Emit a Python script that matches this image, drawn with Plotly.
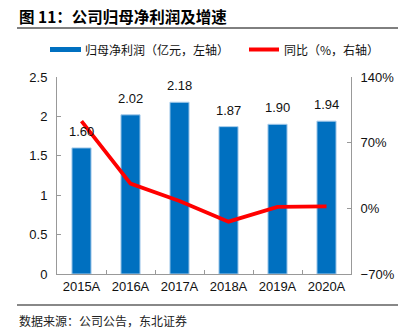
import plotly.graph_objects as go

years = ["2015A", "2016A", "2017A", "2018A", "2019A", "2020A"]
net_profit = [1.60, 2.02, 2.18, 1.87, 1.90, 1.94]          # 亿元
yoy_growth = [93.0, 26.3, 7.9, -14.2, 1.6, 2.1]             # %

title_text = "图 11：公司归母净利润及增速"
legend_bar = "归母净利润（亿元，左轴）"
legend_line = "同比（%，右轴）"
source_text = "数据来源：公司公告，东北证券"

W, H = 410, 333
L, R, T, B = 57, 351, 77, 274  # plot area in pixels


def px(x):
    return (x - L) / (R - L)


def py(y):
    return (B - y) / (B - T)


BLUE = "#0070C0"
RED = "#FF0000"
AXIS = "#999999"
FONT = "Liberation Sans, Arial, sans-serif"
CJK = "Noto Sans CJK SC, sans-serif"

fig = go.Figure()
fig.add_trace(go.Bar(
    x=years, y=net_profit, marker=dict(color=BLUE, line=dict(color="#A9CDEB", width=1)),
    showlegend=False, yaxis="y",
))
fig.add_trace(go.Scatter(
    x=years, y=yoy_growth, mode="lines", line=dict(color=RED, width=3.8),
    showlegend=False, yaxis="y2",
))

shapes = [
    # title underline
    dict(type="line", xref="paper", yref="paper", x0=px(17), x1=px(398), y0=py(28), y1=py(28),
         line=dict(color="#000000", width=1)),
    # footer rule
    dict(type="line", xref="paper", yref="paper", x0=px(17), x1=px(398), y0=py(305), y1=py(305),
         line=dict(color="#888888", width=2)),
    # legend swatches
    dict(type="line", xref="paper", yref="paper", x0=px(50), x1=px(81), y0=py(49.5), y1=py(49.5),
         line=dict(color=BLUE, width=5)),
    dict(type="line", xref="paper", yref="paper", x0=px(249), x1=px(279), y0=py(49.5), y1=py(49.5),
         line=dict(color=RED, width=4)),
]

# value labels above the bars
annotations = [
    dict(text=f"{v:.2f}", x=yr, y=v, xref="x", yref="y", yanchor="bottom",
         yshift=7, showarrow=False, font=dict(family=FONT, size=13, color="#111111"))
    for yr, v in zip(years, net_profit)
]

annotations += [
    dict(text="<b>" + title_text + "</b>", xref="paper", yref="paper", x=px(17), y=py(16),
         xanchor="left", yanchor="middle", showarrow=False,
         font=dict(family=CJK, size=15.5, color="#000000")),
    dict(text=legend_bar, xref="paper", yref="paper", x=px(83), y=py(49.5),
         xanchor="left", yanchor="middle", showarrow=False,
         font=dict(family=CJK, size=12, color="#111111")),
    dict(text=legend_line, xref="paper", yref="paper", x=px(282), y=py(49.5),
         xanchor="left", yanchor="middle", showarrow=False,
         font=dict(family=CJK, size=12, color="#111111")),
    dict(text=source_text, xref="paper", yref="paper", x=px(17), y=py(320),
         xanchor="left", yanchor="middle", showarrow=False,
         font=dict(family=CJK, size=12, color="#222222")),
]

fig.update_layout(
    width=W, height=H,
    margin=dict(l=L, r=W - R, t=T, b=H - B, pad=0),
    paper_bgcolor="white", plot_bgcolor="white",
    bargap=0.61,
    showlegend=False,
    font=dict(family=FONT, size=13, color="#111111"),
    xaxis=dict(
        type="category", showline=True, linecolor=AXIS, linewidth=1,
        ticks="inside", tickson="boundaries", ticklen=4, tickcolor=AXIS,
        showgrid=False, tickfont=dict(family=FONT, size=13, color="#111111"),
    ),
    yaxis=dict(
        range=[0, 2.5], dtick=0.5, showline=True, linecolor=AXIS, linewidth=1,
        ticks="inside", ticklen=4, tickcolor=AXIS, showgrid=False, zeroline=False,
        tickfont=dict(family=FONT, size=13, color="#111111"), ticklabelstandoff=6,
    ),
    yaxis2=dict(
        range=[-70, 140], dtick=70, ticksuffix="%", overlaying="y", side="right",
        showline=True, linecolor=AXIS, linewidth=1, ticks="inside", ticklen=4,
        tickcolor=AXIS, showgrid=False, zeroline=False,
        tickfont=dict(family=FONT, size=13, color="#111111"), ticklabelstandoff=6,
    ),
    shapes=shapes,
    annotations=annotations,
)

fig.write_html("out.html")
